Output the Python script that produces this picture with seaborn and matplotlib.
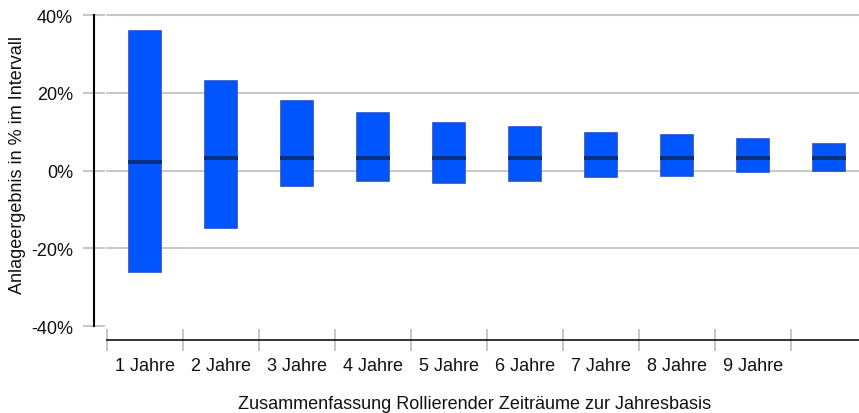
import numpy as np
import pandas as pd
import matplotlib
matplotlib.use('Agg')
import matplotlib.pyplot as plt
import seaborn as sns

# Rollierende Zeiträume: Spannweite (min/max) und Median der Jahresrendite in %
zeitraum = ['1 Jahre', '2 Jahre', '3 Jahre', '4 Jahre', '5 Jahre',
            '6 Jahre', '7 Jahre', '8 Jahre', '9 Jahre', '10 Jahre']
tick_labels = ['1 Jahre', '2 Jahre', '3 Jahre', '4 Jahre', '5 Jahre',
               '6 Jahre', '7 Jahre', '8 Jahre', '9 Jahre', '']
minimum = [-26.2, -14.9, -3.9, -2.6, -3.3, -2.6, -1.8, -1.3, -0.3, -0.2]
maximum = [36.0, 22.9, 18.0, 14.9, 12.1, 11.1, 9.6, 9.1, 8.0, 6.8]
median = [2.3, 3.1, 3.3, 3.3, 3.2, 3.2, 3.2, 3.2, 3.2, 3.1]
y_ticks = [-40, -20, 0, 20, 40]
grid_werte = [-20, 0, 20, 40]

df = pd.DataFrame({'zeitraum': zeitraum, 'min': minimum, 'max': maximum, 'median': median})
df['spanne'] = df['max'] - df['min']

sns.set_style('white')
plt.rcParams['font.family'] = ['Liberation Sans', 'DejaVu Sans']
plt.rcParams['font.size'] = 13

fig = plt.figure(figsize=(8.59, 4.14), dpi=100)
W, H = 859, 414
ax = fig.add_axes([107 / W, 87 / H, 760 / W, 311 / H])

# Gitterlinien (ohne -40%)
for g in grid_werte:
    ax.axhline(g, color='#c8c8c8', lw=1.5, zorder=0, clip_on=False)

sns.barplot(data=df, x='zeitraum', y='spanne', bottom=df['min'], order=zeitraum,
            width=0.42, color='#0055ff', saturation=1, edgecolor='#1c4fcf',
            linewidth=1.2, errorbar=None, ax=ax, zorder=2)

xs = np.arange(len(zeitraum))
ax.hlines(df['median'], xs - 0.225, xs + 0.225, color='#0a2f7a', lw=2.8, zorder=3)

ax.set_ylim(-40, 40)
ax.set_xlim(-0.5, 9.5)
ax.set_yticks(y_ticks)
ax.set_yticklabels([f'{v}%' for v in y_ticks])
ax.set_xticks(xs)
ax.set_xticklabels(tick_labels)
ax.set_xticks(np.arange(-0.5, 9, 1), minor=True)

for s in ['top', 'right']:
    ax.spines[s].set_visible(False)
ax.spines['left'].set_position(('outward', 9.4))
ax.spines['bottom'].set_position(('outward', 10))
ax.spines['left'].set_linewidth(1.5)
ax.spines['left'].set_color('black')
ax.spines['bottom'].set_linewidth(1.2)
ax.spines['bottom'].set_color('#111111')

ax.tick_params(axis='y', which='major', direction='inout', length=16, width=1.5,
               color='#c8c8c8', pad=7, labelsize=13, labelcolor='#111111', left=True)
ax.tick_params(axis='x', which='major', length=0, pad=12, labelsize=13, labelcolor='#111111')
ax.tick_params(axis='x', which='minor', direction='inout', length=16, width=1.5,
               color='#c8c8c8', bottom=True)

ax.set_xlabel('Zusammenfassung Rollierender Zeiträume zur Jahresbasis', fontsize=13, color='#111111')
ax.set_ylabel('Anlageergebnis in % im Intervall', fontsize=13, color='#111111')
ax.xaxis.set_label_coords((475 - 107) / 760, (327 - 396) / 311)
ax.yaxis.set_label_coords((26 - 107) / 760, (327 - 165) / 311)

fig.savefig('out.png', dpi=100)
